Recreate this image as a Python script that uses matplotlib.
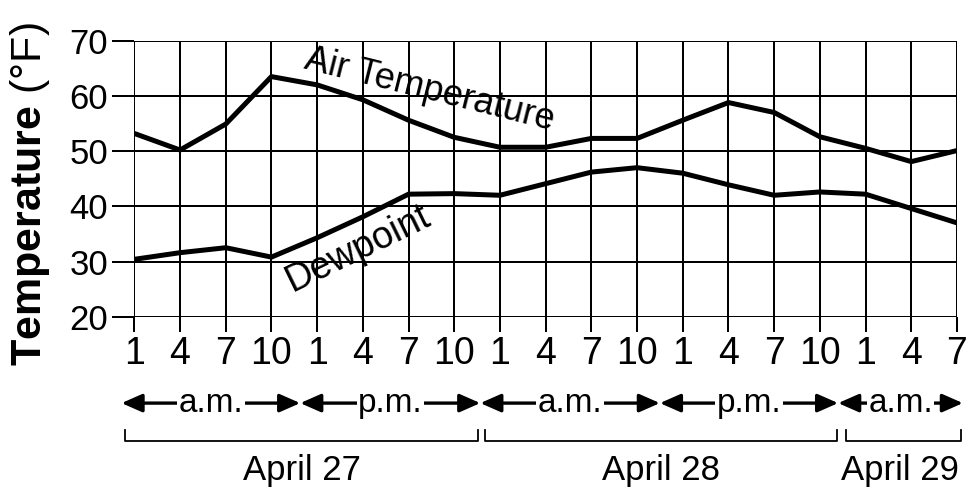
import matplotlib
matplotlib.use("Agg")
import matplotlib.pyplot as plt
from matplotlib.transforms import blended_transform_factory

plt.rcParams['font.family'] = ['Liberation Sans', 'DejaVu Sans']
plt.rcParams['mathtext.fontset'] = 'custom'
plt.rcParams['mathtext.rm'] = 'Liberation Sans'
plt.rcParams['mathtext.bf'] = 'Liberation Sans:bold'

# ---- data ----
hour_labels = ["1", "4", "7", "10", "1", "4", "7", "10", "1", "4", "7", "10",
               "1", "4", "7", "10", "1", "4", "7"]
air_temp = [53.2, 50.2, 54.9, 63.5, 62.0, 59.3, 55.6, 52.5, 50.7, 50.7,
            52.3, 52.3, 55.6, 58.8, 57.0, 52.6, 50.5, 48.1, 50.1]
dewpoint = [30.4, 31.6, 32.5, 30.8, 34.3, 38.1, 42.2, 42.3, 42.0, 44.1,
            46.2, 47.0, 46.0, 43.9, 42.0, 42.6, 42.2, 39.6, 37.0]
y_ticks = [20, 30, 40, 50, 60, 70]
period_labels = ["a.m.", "p.m.", "a.m.", "p.m.", "a.m."]
day_labels = ["April 27", "April 28", "April 29"]

x = list(range(len(hour_labels)))

fig = plt.figure(figsize=(9.79, 5.04), dpi=100)
ax = fig.add_axes([0.1372, 0.3716, 0.8403, 0.5476])

ax.plot(x, air_temp, color='black', lw=3.6, solid_joinstyle='miter', zorder=3)
ax.plot(x, dewpoint, color='black', lw=3.6, solid_joinstyle='miter', zorder=3)

ax.set_xlim(0, 18)
ax.set_ylim(20, 70)
ax.set_xticks(x)
ax.set_xticklabels(hour_labels, fontsize=27)
ax.set_yticks(y_ticks)
ax.set_yticklabels([str(v) for v in y_ticks], fontsize=25)
ax.grid(True, color='black', lw=1.44)
for s in ax.spines.values():
    s.set_visible(False)
ax.tick_params(axis='y', length=16, width=1.44, pad=3)
ax.tick_params(axis='x', length=11, width=1.44, pad=3)

# y label
fig.text(0.031, 0.615, r"$\mathbf{Temperature}$ (°F)", rotation=90,
         fontsize=31, ha='center', va='center')

# line labels
ax.text(3.69, 65.0, "Air Temperature", rotation=-14, rotation_mode='anchor',
        ha='left', va='baseline', fontsize=26)
ax.text(3.45, 24.6, "Dewpoint", rotation=26, rotation_mode='anchor',
        ha='left', va='baseline', fontsize=27)

tr = blended_transform_factory(ax.transData, ax.transAxes)

# a.m./p.m. arrows
bounds = [-0.28, 3.63, 7.57, 11.5, 15.4, 18.13]
y_arr = -0.313
for i, lab in enumerate(period_labels):
    x0, x1 = bounds[i], bounds[i + 1]
    ax.annotate("", xy=(x0, y_arr), xytext=(x1, y_arr), xycoords=tr,
                textcoords=tr, annotation_clip=False,
                arrowprops=dict(arrowstyle='<|-|>,head_length=1.25,head_width=0.55',
                                color='black', lw=2.4, shrinkA=0, shrinkB=0))
    ax.text((x0 + x1) / 2, y_arr, lab, transform=tr, ha='center', va='center',
            fontsize=24, clip_on=False,
            bbox=dict(facecolor='white', edgecolor='none', pad=1.0))

# day brackets
brackets = [(-0.20, 7.53), (7.67, 15.37), (15.57, 18.09)]
y_br = -0.450
y_br_top = -0.410
for (b0, b1), lab in zip(brackets, day_labels):
    ax.plot([b0, b0, b1, b1], [y_br_top, y_br, y_br, y_br_top], color='black',
            lw=1.3, transform=tr, clip_on=False)
    ax.text((b0 + b1) / 2 if lab != "April 29" else 16.76, -0.592, lab,
            transform=tr, ha='center', va='baseline', fontsize=25)

fig.savefig("out.png", dpi=100)
